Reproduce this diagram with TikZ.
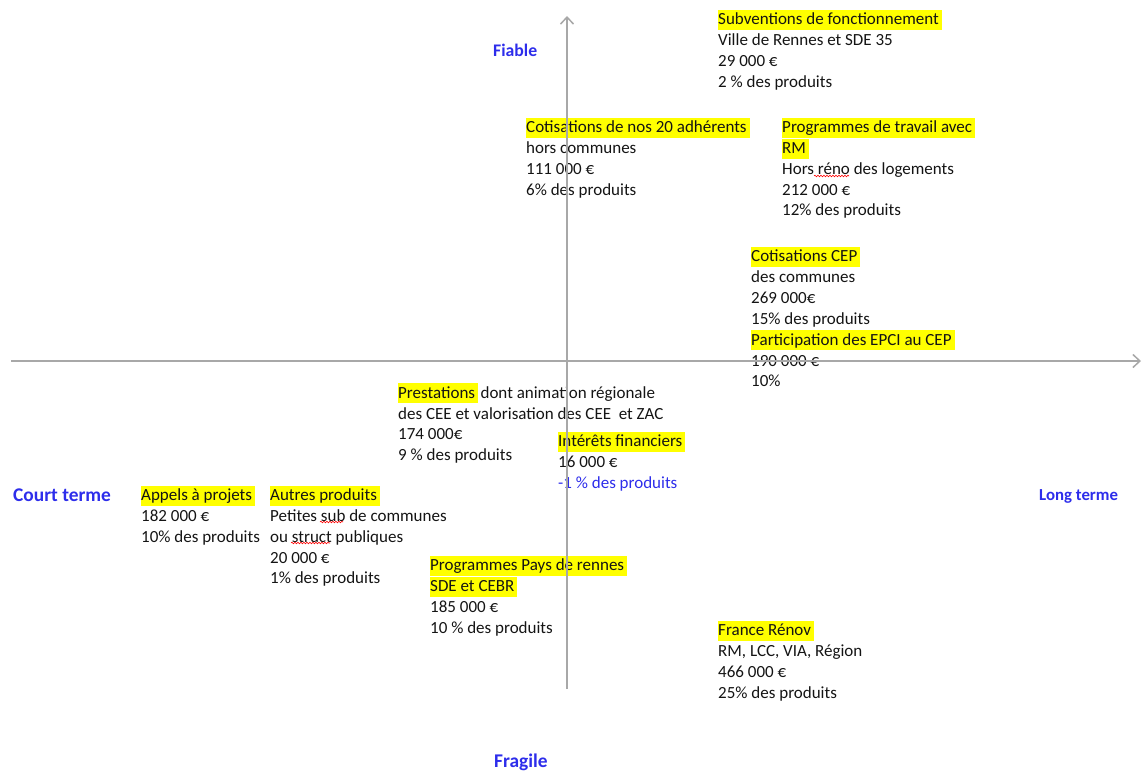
\documentclass[tikz,border=0pt]{standalone}
\usepackage{fontspec}
\setmainfont{Carlito}
\usetikzlibrary{arrows.meta,decorations.pathmorphing}
\definecolor{hlyellow}{RGB}{255,255,0}
\definecolor{axisgray}{RGB}{168,168,168}
\definecolor{labelblue}{RGB}{45,45,235}
\definecolor{textdark}{RGB}{20,20,20}
\newcommand{\hl}[1]{{\setlength{\fboxsep}{0pt}\colorbox{hlyellow}{\rule[-5pt]{0pt}{20pt}#1\hspace{3pt}}}}

\begin{document}
\begin{tikzpicture}[x=1pt,y=-1pt,
	item/.style={anchor=north west,inner sep=0pt,align=left,text=textdark,font=\fontsize{17}{20.8}\selectfont},
	axislabel/.style={anchor=base west,inner sep=0pt,text=labelblue},
	axisline/.style={draw=axisgray,line width=1.5pt,-{Straight Barb[length=7pt,width=13pt]}},
	spellmark/.style={draw=red,line width=0.6pt,decorate,decoration={snake,amplitude=0.8pt,segment length=3pt}}]
			\useasboundingbox (0,0) rectangle (1142,771);
			% axis labels
			\node[axislabel,font=\bfseries\fontsize{17.7}{21}\selectfont] (fiable) at (493,56.7) {Fiable};
			\node[axislabel,font=\bfseries\fontsize{19.4}{23}\selectfont] (fragile) at (494,767) {Fragile};
			\node[axislabel,font=\bfseries\fontsize{19.4}{23}\selectfont] (court) at (13,501.5) {Court terme};
			\node[axislabel,font=\bfseries\fontsize{16.8}{20}\selectfont] (long) at (1039,500.5) {Long terme};
			% produits
			\node[item] (subv) at (718,9.5) {\hl{Subventions de fonctionnement}\\Ville de Rennes et SDE 35\\29 000 €\\2 \% des produits};
			\node[item] (adherents) at (526,117.5) {\hl{Cotisations de nos 20 adhérents}\\hors communes\\111 000 €\\6\% des produits};
			\node[item] (progrm) at (782,117.5) {\hl{Programmes de travail avec}\\\hl{RM}\\Hors réno des logements\\212 000 €\\12\% des produits};
			\node[item] (cepcom) at (751,246.5) {\hl{Cotisations CEP}\\des communes\\269 000€\\15\% des produits};
			\node[item] (cepepci) at (751,330) {\hl{Participation des EPCI au CEP}\\190 000 €\\10\%};
			\node[item] (prest) at (398,383) {\hl{Prestations}\hspace{2.5pt}dont animation régionale\\des CEE et valorisation des CEE~ et ZAC\\174 000€\\9 \% des produits};
			\node[item] (interets) at (558,431.5) {\hl{Intérêts financiers}\\16 000 €\\{\color{labelblue}-1 \% des produits}};
			\node[item] (appels) at (141,485.5) {\hl{Appels à projets}\\182 000 €\\10\% des produits};
			\node[item] (autres) at (270,485.5) {\hl{Autres produits}\\Petites sub de communes\\ou struct publiques\\20 000 €\\1\% des produits};
			\node[item] (pays) at (430,555.5) {\hl{Programmes Pays de rennes}\\\hl{SDE et CEBR}\\185 000 €\\10 \% des produits};
			\node[item] (renov) at (718,620.5) {\hl{France Rénov}\\RM, LCC, VIA, Région\\466 000 €\\25\% des produits};
			% spell check marks
			\draw[spellmark] (814,176) -- (849,176);
			\draw[spellmark] (320,522) -- (343,522);
			\draw[spellmark] (291,543) -- (330,543);
			% axes
			\coordinate (ybot) at (567,689);
			\coordinate (ytop) at (567,16);
			\coordinate (xleft) at (11,361);
			\coordinate (xright) at (1141,361);
			\draw[axisline] (ybot) -- (ytop);
			\draw[axisline] (xleft) -- (xright);
		\end{tikzpicture}
\end{document}
